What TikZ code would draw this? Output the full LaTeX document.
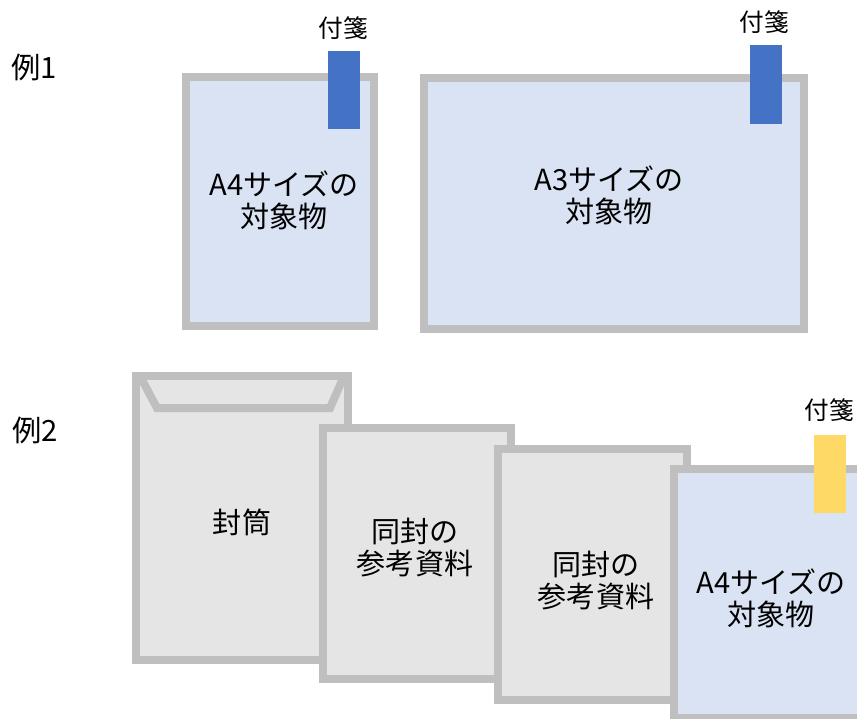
\documentclass[tikz,border=0pt]{standalone}
\usepackage{fontspec}
\setmainfont{Noto Sans CJK JP}
\definecolor{edgegray}{HTML}{BFBFBF}
\definecolor{paperblue}{HTML}{DAE3F3}
\definecolor{papergray}{HTML}{E5E5E5}
\definecolor{tagblue}{HTML}{4472C4}
\definecolor{tagyellow}{HTML}{FFD966}
\tikzset{
  sheetblue/.style={draw=edgegray, fill=paperblue, line width=6pt, line join=miter},
  sheetgray/.style={draw=edgegray, fill=papergray, line width=6pt, line join=miter},
  flapline/.style={draw=edgegray, line width=6pt, line join=miter},
  tagfill/.style={fill=#1},
  maintext/.style={font=\fontsize{21.8}{24}\selectfont, align=center, inner sep=0pt},
  tagtext/.style={font=\fontsize{18.5}{20}\selectfont, inner sep=0pt},
  exampletext/.style={font=\fontsize{22}{25}\selectfont, inner sep=0pt},
}
\begin{document}
\begin{tikzpicture}[x=0.75pt,y=-0.75pt]
\clip (0,0) rectangle (857,718);
\fill[white] (0,0) rectangle (857,718);

% Example 1
\node[exampletext] (ex1) at (34,67) {例1};
\filldraw[sheetblue] (186,77) rectangle (374,326);
\node[maintext] (a4a) at (284,200) {A4サイズの\\対象物};
\fill[tagfill=tagblue] (328,51) rectangle (360,129);
\node[tagtext] (taga) at (343,28) {付箋};

\filldraw[sheetblue] (424,78) rectangle (804,329);
\node[maintext] (a3) at (609,195) {A3サイズの\\対象物};
\fill[tagfill=tagblue] (750,45) rectangle (782,124);
\node[tagtext] (tagb) at (764,22) {付箋};

% Example 2
\node[exampletext] (ex2) at (35,430) {例2};
\filldraw[sheetgray] (136,376) rectangle (348,660);
\draw[flapline] (140,376) -- (157,408) -- (330,408) -- (344,376);
\node[maintext] (env) at (242,522) {封筒};

\filldraw[sheetgray] (323,428) rectangle (511,679);
\node[maintext] (doca) at (415,548) {同封の\\参考資料};

\filldraw[sheetgray] (498,449) rectangle (687,700);
\node[maintext] (docb) at (596,581) {同封の\\参考資料};

\filldraw[sheetblue] (674,469) rectangle (872,718);
\node[maintext] (a4b) at (771,598) {A4サイズの\\対象物};
\fill[tagfill=tagyellow] (814,435) rectangle (846,513);
\node[tagtext] (tagc) at (829,410) {付箋};
\end{tikzpicture}
\end{document}
